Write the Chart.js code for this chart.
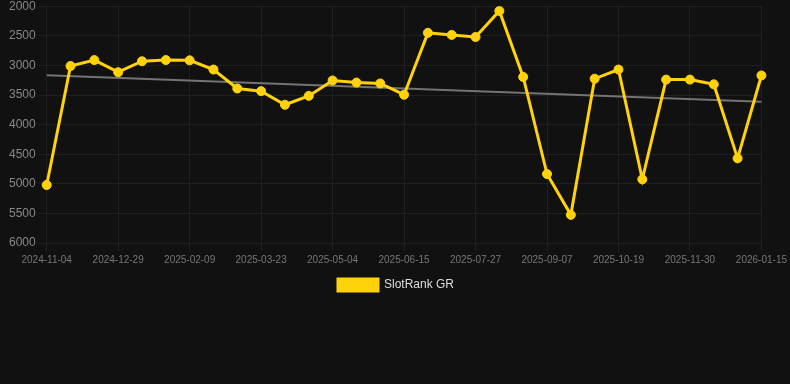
<!DOCTYPE html>
<html>
<head>
<meta charset="utf-8">
<script src="https://cdn.jsdelivr.net/npm/chart.js@4.4.1/dist/chart.umd.min.js"></script>
<style>
  html, body { margin: 0; padding: 0; background: #111111; overflow: hidden; }
  #wrap { width: 790px; height: 305px; position: relative; top: -4px; }
</style>
</head>
<body>
<div id="wrap"><canvas id="chart"></canvas></div>
<script>
// SlotRank GR over time, lower rank number = better, so y is reversed.

const dates = [
  '2024-11-04', '2024-12-01', '2024-12-15', '2024-12-29', '2025-01-12', '2025-01-26',
  '2025-02-09', '2025-02-23', '2025-03-09', '2025-03-23', '2025-04-06', '2025-04-20',
  '2025-05-04', '2025-05-18', '2025-06-01', '2025-06-15', '2025-06-29', '2025-07-13',
  '2025-07-27', '2025-08-10', '2025-08-24', '2025-09-07', '2025-09-21', '2025-10-05',
  '2025-10-19', '2025-11-02', '2025-11-16', '2025-11-30', '2025-12-14', '2025-12-28',
  '2026-01-15',
];

const rankGR = [
  5020, 3010, 2910, 3115, 2930, 2910, 2915, 3070, 3390, 3435, 3665, 3515,
  3255, 3290, 3305, 3495, 2450, 2485, 2520, 2080, 3195, 4835, 5525, 3225,
  3070, 4925, 3240, 3240, 3320, 4570, 3170,
];

// trend line end points (first and last date)
const trendStart = 3165;
const trendEnd = 3615;
const trend = dates.map((d, i) => i === 0 ? trendStart : (i === dates.length - 1 ? trendEnd : null));

const yMin = 2000, yMax = 6000, yStep = 500;

const font = "Arial, 'Liberation Sans', Helvetica, sans-serif";
Chart.defaults.font.family = font;

new Chart(document.getElementById('chart'), {
  type: 'line',
  data: {
    labels: dates,
    datasets: [
      {
        label: 'SlotRank GR',
        data: rankGR,
        borderColor: '#ffd20a',
        backgroundColor: '#ffd20a',
        borderWidth: 3,
        pointRadius: 4.5,
        pointHoverRadius: 6,
        pointBorderWidth: 1,
        pointBackgroundColor: '#ffd20a',
        pointBorderColor: '#ffd20a',
        tension: 0,
        fill: false,
      },
      {
        label: 'trend',
        data: trend,
        borderColor: '#747474',
        borderWidth: 2,
        pointRadius: 0,
        spanGaps: true,
        fill: false,
      },
    ],
  },
  options: {
    responsive: true,
    maintainAspectRatio: false,
    animation: false,
    layout: { padding: { left: 6, right: 4, top: 0, bottom: 0 } },
    plugins: {
      legend: {
        position: 'bottom',
        labels: {
          color: '#dddddd',
          font: { size: 12, family: font },
          boxWidth: 40,
          boxHeight: 12,
          filter: item => item.text !== 'trend',
        },
      },
      tooltip: { enabled: false },
    },
    scales: {
      x: {
        grid: { color: '#1f1f1f' },
        border: { display: false },
        ticks: {
          color: '#777777',
          font: { size: 10, family: font },
          maxRotation: 0,
          autoSkip: true,
          maxTicksLimit: 11,
        },
      },
      y: {
        reverse: true,
        min: yMin,
        max: yMax,
        grid: { color: '#1f1f1f' },
        border: { display: false },
        ticks: {
          stepSize: yStep,
          color: '#888888',
          font: { size: 12, family: font },
          callback: v => String(v),
        },
      },
    },
  },
});
</script>
</body>
</html>
